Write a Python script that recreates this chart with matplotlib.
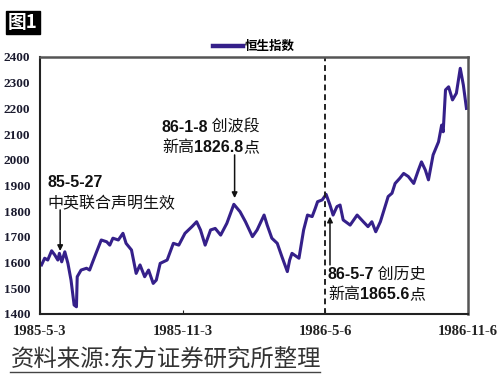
import matplotlib
matplotlib.use("Agg")
import matplotlib.pyplot as plt
from matplotlib.lines import Line2D
import pandas as pd

# 恒生指数 1985-5-3 ~ 1986-11-6
start = "1985-05-03"
day_offset = [2, 6, 10, 15, 19, 23, 25, 28, 32, 36, 40, 44, 47, 48, 53, 60, 64, 68, 73,
              79, 86, 90, 94, 101, 107, 111, 118, 124, 129, 135, 140, 146, 150, 155,
              164, 172, 179, 187, 196, 202, 207, 213, 220, 226, 233, 241, 250, 258,
              265, 274, 280, 289, 293, 299, 306, 312, 319, 322, 325, 334, 340, 345,
              351, 355, 358, 364, 369, 374, 378, 383, 387, 391, 400, 409, 417, 423,
              428, 433, 439, 443, 447, 449, 454, 458, 464, 469, 475, 482, 488, 492,
              497, 501, 507, 514, 518, 520, 523, 527, 532, 537, 542, 546, 550]
hsi = [1591, 1617, 1610, 1646, 1630, 1610, 1636, 1603, 1642, 1597, 1532, 1435, 1428, 1545,
       1571, 1578, 1571, 1603, 1642, 1688, 1681, 1668, 1695, 1688, 1714, 1675, 1649, 1558,
       1591, 1545, 1571, 1519, 1532, 1597, 1610, 1675, 1668, 1714, 1740, 1759, 1727, 1668,
       1727, 1733, 1707, 1753, 1826.8, 1798, 1759, 1701, 1727, 1785, 1746, 1695, 1675, 1623,
       1565, 1610, 1636, 1617, 1727, 1785, 1779, 1811, 1837, 1844, 1865.6, 1824, 1785, 1818,
       1824, 1766, 1746, 1785, 1759, 1740, 1759, 1720, 1759, 1798, 1837, 1857, 1870, 1908,
       1928, 1947, 1935, 1908, 1960, 1992, 1960, 1922, 2019, 2070, 2135, 2109, 2272, 2284,
       2233, 2259, 2356, 2291, 2200]

tick_dates = ["1985-05-03", "1985-11-03", "1986-05-06", "1986-11-06"]
tick_labels = ["1985-5-3", "1985-11-3", "1986-5-6", "1986-11-6"]
y_ticks = [1400, 1500, 1600, 1700, 1800, 1900, 2000, 2100, 2200, 2300, 2400]

dates = pd.Timestamp(start) + pd.to_timedelta(day_offset, unit="D")

W, H = 501, 381
fig = plt.figure(figsize=(W / 100, H / 100), dpi=100)
ax = fig.add_axes([40 / W, 1 - 314 / H, 428 / W, 257 / H])

def fx(px):
    return px / W

def fy(py):
    return 1 - py / H

line_color = "#35208a"
ax.plot(dates, hsi, color=line_color, lw=2.2, label="恒生指数", solid_joinstyle="round")

# 1986-5-6 vertical dashed marker
ax.axvline(pd.Timestamp("1986-05-06"), color="#222222", lw=1.4, ls=(0, (3, 2)))

ax.set_xlim(pd.Timestamp(tick_dates[0]), pd.Timestamp(tick_dates[-1]))
ax.set_ylim(1400, 2400)
ax.set_xticks([pd.Timestamp(d) for d in tick_dates])
ax.set_xticklabels(tick_labels, family="Liberation Serif", weight="bold", fontsize=10.5)
ax.set_yticks(y_ticks)
ax.set_yticklabels([str(v) for v in y_ticks], family="Liberation Serif", weight="bold",
                   fontsize=9.5, color="#1a1a2e")
ax.tick_params(axis="x", direction="in", length=3, pad=8, colors="#222222")
ax.tick_params(axis="y", length=0, pad=7)
for side in ["left", "bottom"]:
    ax.spines[side].set_color("#222222")
    ax.spines[side].set_linewidth(1.5)
for side in ["top", "right"]:
    ax.spines[side].set_color("#555555")
    ax.spines[side].set_linewidth(1.8)

leg = ax.legend(loc="lower center", bbox_to_anchor=(0.5, 0.99), frameon=False,
                handlelength=2.4, handletextpad=0.15, borderaxespad=0.1,
                prop={"family": ["Noto Sans CJK SC"], "weight": "bold", "size": 9})
leg.get_lines()[0].set_linewidth(3.2)

# annotations: bold numbers + plain Chinese, chained on one baseline
num_font = ["Liberation Sans", "Noto Sans CJK SC"]
cjk_font = ["Noto Sans CJK SC", "DejaVu Sans"]

def chain(px, py, parts, size=11.5):
    prev = None
    for s, bold in parts:
        kw = dict(fontsize=size, va="baseline", ha="left", color="#111111",
                  weight="bold" if bold else "normal",
                  family=num_font if bold else cjk_font)
        if prev is None:
            prev = fig.text(fx(px), fy(py), s, **kw)
        else:
            prev = ax.annotate(s, xy=(1, fy(py)), xycoords=(prev, "figure fraction"),
                               annotation_clip=False, **kw)
    return prev

chain(47, 187, [("85-5-27", True)])
chain(47, 208, [("中英联合声明生效", False)])
chain(162, 132, [("86-1-8", True), (" 创波段", False)])
chain(162, 152, [("新高", False), ("1826.8", True), ("点", False)])
chain(328, 279, [("86-5-7", True), (" 创历史", False)])
chain(328, 299, [("新高", False), ("1865.6", True), ("点", False)])

arrow = dict(arrowstyle="-|>", color="#111111", lw=1.1, mutation_scale=8, shrinkA=0, shrinkB=0)
ax.annotate("", xy=(pd.Timestamp("1985-05-29"), 1645), xytext=(pd.Timestamp("1985-05-29"), 1805),
            arrowprops=arrow)
ax.annotate("", xy=(pd.Timestamp("1986-01-09"), 1851), xytext=(pd.Timestamp("1986-01-09"), 2019),
            arrowprops=arrow)
ax.annotate("", xy=(pd.Timestamp("1986-05-12"), 1779), xytext=(pd.Timestamp("1986-05-12"), 1591),
            arrowprops=arrow)

# 图1 badge
fig.text(fx(8), fy(28), "图1", fontsize=13.5, weight="bold", color="white", va="baseline",
         family=cjk_font,
         bbox=dict(boxstyle="square,pad=0.1", facecolor="black", edgecolor="black"))

# source note
fig.text(fx(11), fy(366), "资料来源:东方证券研究所整理", fontsize=16.8, color="#333333",
         va="baseline", family=cjk_font)
fig.add_artist(Line2D([fx(10), fx(320)], [fy(372), fy(372)], color="#444444", lw=1))

fig.savefig("out.png", dpi=100)
